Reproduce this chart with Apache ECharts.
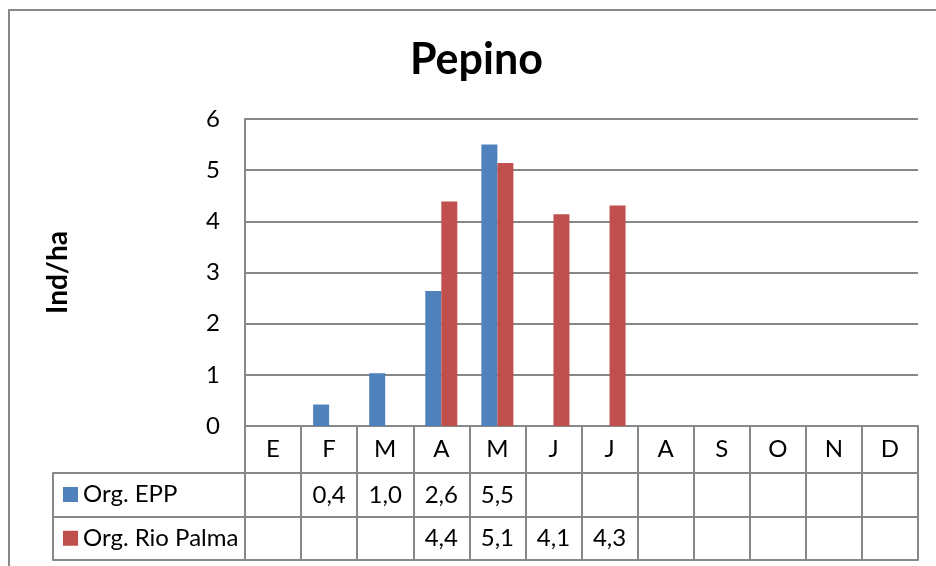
<!DOCTYPE html>
<html><head><meta charset="utf-8">
<script src="https://cdn.jsdelivr.net/npm/echarts@6/dist/echarts.min.js"></script>
<style>html,body{margin:0;padding:0;background:#fff}#c{width:936px;height:566px}</style>
</head><body><div id="c"></div>
<script>
const months = ['E','F','M','A','M','J','J','A','S','O','N','D'];
const seriesNames = ['Org. EPP','Org. Rio Palma'];
const eppValues = [null,0.42,1.03,2.64,5.50,null,null,null,null,null,null,null];
const rioValues = [null,null,null,4.39,5.14,4.14,4.31,null,null,null,null,null];
const yTicks = [0,1,2,3,4,5,6];
const chartTitle = 'Pepino';
const yName = 'Ind/ha';

const GRAY = '#878787';
const FONT = 'Lato';
const fmt = v => (v == null ? '' : v.toFixed(1).replace('.', ','));
const lineSt = {color: GRAY, width: 2};
const txt = {fontFamily: FONT, fontSize: 24, color: '#000'};

function rowAxis(gridIndex, data, offset, tickLen, formatter, margin) {
  return {
    gridIndex, type: 'category', data, position: 'bottom', offset,
    axisLine: {show: true, onZero: false, lineStyle: lineSt},
    axisTick: {show: tickLen > 0, interval: 0, length: tickLen, lineStyle: lineSt},
    axisLabel: formatter ? Object.assign({show: true, interval: 0, margin, verticalAlign: 'middle', formatter}, txt) : {show: false},
    splitLine: {show: false}
  };
}

const chart = echarts.init(document.getElementById('c'), null, {renderer: 'canvas'});
chart.setOption({
  animation: false,
  backgroundColor: '#fff',
  title: {text: chartTitle, left: 410, top: 39, padding: 0,
    textStyle: {fontFamily: FONT, fontWeight: 'bold', fontSize: 43, color: '#000'}},
  legend: {data: seriesNames, orient: 'vertical', left: 63, top: 482.5, padding: 0,
    itemWidth: 15, itemHeight: 15, itemGap: 19.75, icon: 'rect', selectedMode: false,
    textStyle: {fontFamily: FONT, fontSize: 24, color: '#000', lineHeight: 24}},
  grid: [
    {left: 245, right: 18, top: 119, bottom: 140},
    {left: 53, width: 192, top: 119, bottom: 140}
  ],
  xAxis: [
    rowAxis(0, months, 0, 47, v => v, 23.5),
    rowAxis(0, months, 47, 44, (v, i) => fmt(eppValues[i]), 22),
    rowAxis(0, months, 91, 43, (v, i) => fmt(rioValues[i]), 21.5),
    rowAxis(0, months, 134, 0, null, 0),
    rowAxis(1, [''], 47, 44, null, 0),
    rowAxis(1, [''], 91, 43, null, 0),
    rowAxis(1, [''], 134, 0, null, 0)
  ],
  yAxis: [
    {gridIndex: 0, type: 'value', min: yTicks[0], max: yTicks[yTicks.length - 1], interval: 1,
      axisLine: {show: true, onZero: false, lineStyle: lineSt},
      axisTick: {show: false},
      axisLabel: Object.assign({margin: 25}, txt),
      splitLine: {show: true, lineStyle: lineSt},
      name: yName, nameLocation: 'middle', nameRotate: 90, nameGap: 173,
      nameTextStyle: {fontFamily: FONT, fontWeight: 'bold', fontSize: 28, color: '#000'}},
    {gridIndex: 1, type: 'value', show: false, min: 0, max: 1,
      axisLine: {onZero: false}, splitLine: {show: false}}
  ],
  series: [
    {name: seriesNames[0], type: 'bar', xAxisIndex: 0, yAxisIndex: 0, data: eppValues,
      barWidth: 16, barGap: '0%', itemStyle: {color: '#4F81BD'}},
    {name: seriesNames[1], type: 'bar', xAxisIndex: 0, yAxisIndex: 0, data: rioValues,
      barWidth: 16, barGap: '0%', itemStyle: {color: '#C0504D'}}
  ],
  graphic: [
    {type: 'rect', silent: true, shape: {x: 9, y: 10, width: 2000, height: 2000},
      style: {fill: 'none', stroke: GRAY, lineWidth: 2}}
  ]
});
</script>
</body></html>
